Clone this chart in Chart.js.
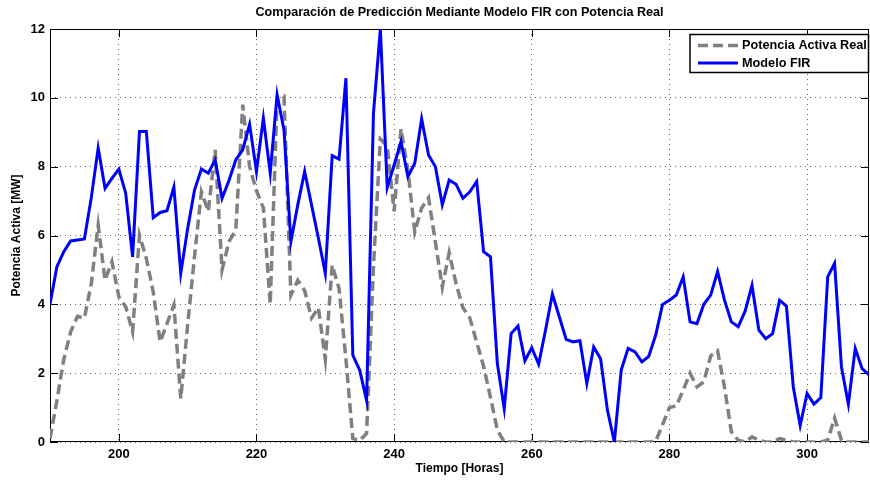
<!DOCTYPE html>
<html>
<head>
<meta charset="utf-8">
<script src="https://cdn.jsdelivr.net/npm/chart.js@4.4.0/dist/chart.umd.min.js"></script>
<style>
  html, body { margin: 0; padding: 0; background: #ffffff; }
  canvas { display: block; }
</style>
</head>
<body>
<canvas id="chart" width="870" height="482"></canvas>
<script>
// Hour index of each sample
const hours = [
  190, 191, 192, 193, 194, 195, 196, 197, 198, 199,
  200, 201, 202, 203, 204, 205, 206, 207, 208, 209,
  210, 211, 212, 213, 214, 215, 216, 217, 218, 219,
  220, 221, 222, 223, 224, 225, 226, 227, 228, 229,
  230, 231, 232, 233, 234, 235, 236, 237, 238, 239,
  240, 241, 242, 243, 244, 245, 246, 247, 248, 249,
  250, 251, 252, 253, 254, 255, 256, 257, 258, 259,
  260, 261, 262, 263, 264, 265, 266, 267, 268, 269,
  270, 271, 272, 273, 274, 275, 276, 277, 278, 279,
  280, 281, 282, 283, 284, 285, 286, 287, 288, 289,
  290, 291, 292, 293, 294, 295, 296, 297, 298, 299,
  300, 301, 302, 303, 304, 305, 306, 307, 308, 309
];

// Measured active power [MW]
const realPower = [
  0.10, 1.20, 2.40, 3.20, 3.65, 3.60, 4.60, 6.30, 4.70, 5.24,
  4.22, 3.93, 3.20, 6.01, 5.33, 4.36, 2.91, 3.44, 3.98, 1.26,
  3.40, 5.40, 7.27, 6.70, 8.49, 5.00, 5.82, 6.16, 9.80, 8.00,
  7.30, 6.80, 4.00, 10.00, 10.05, 4.27, 4.70, 4.40, 3.60, 3.90,
  2.40, 5.14, 4.46, 2.40, 0.10, 0.05, 0.25, 5.10, 8.80, 8.60,
  6.70, 9.10, 7.90, 6.10, 6.80, 7.10, 5.80, 4.50, 5.50, 4.60,
  3.90, 3.60, 2.90, 2.20, 1.30, 0.35, 0.00, 0.00, 0.00, 0.00,
  0.00, 0.00, 0.00, 0.00, 0.00, 0.00, 0.00, 0.00, 0.00, 0.00,
  0.00, 0.00, 0.00, 0.00, 0.00, 0.00, 0.00, 0.00, 0.02, 0.50,
  1.00, 1.05, 1.50, 2.00, 1.60, 1.75, 2.50, 2.65, 1.60, 0.30,
  0.05, 0.00, 0.15, 0.05, 0.00, 0.00, 0.10, 0.05, 0.00, 0.00,
  0.00, 0.00, 0.00, 0.05, 0.70, 0.05, 0.00, 0.00, 0.00, 0.00
];

// FIR model prediction [MW]
const firModel = [
  4.00, 5.09, 5.53, 5.84, 5.87, 5.90, 7.10, 8.54, 7.37, 7.66,
  7.93, 7.23, 5.38, 9.02, 9.02, 6.52, 6.67, 6.72, 7.41, 4.90,
  6.20, 7.32, 7.93, 7.81, 8.20, 7.08, 7.60, 8.20, 8.49, 9.23,
  7.86, 9.41, 7.81, 10.09, 9.07, 5.82, 6.89, 7.86, 6.89, 5.92,
  4.90, 8.32, 8.22, 10.57, 2.52, 2.09, 1.21, 9.55, 12.00, 7.39,
  8.05, 8.73, 7.71, 8.10, 9.39, 8.34, 8.00, 6.89, 7.61, 7.49,
  7.08, 7.27, 7.57, 5.53, 5.38, 2.28, 0.97, 3.15, 3.37, 2.36,
  2.74, 2.26, 3.25, 4.30, 3.64, 2.98, 2.91, 2.94, 1.70, 2.76,
  2.42, 0.92, 0.00, 2.09, 2.72, 2.62, 2.33, 2.49, 3.10, 4.00,
  4.12, 4.27, 4.80, 3.49, 3.44, 4.00, 4.27, 4.95, 4.12, 3.49,
  3.35, 3.80, 4.55, 3.25, 3.00, 3.15, 4.12, 3.95, 1.60, 0.48,
  1.41, 1.10, 1.29, 4.80, 5.19, 2.18, 1.10, 2.72, 2.13, 1.95
];

const xTickValues = [200, 220, 240, 260, 280, 300];
const yTickValues = [0, 2, 4, 6, 8, 10, 12];

const chartTitle = 'Comparación de Predicción Mediante Modelo FIR con Potencia Real';
const xAxisTitle = 'Tiempo [Horas]';
const yAxisTitle = 'Potencia Activa [MW]';
const realLabel = 'Potencia Activa Real';
const firLabel = 'Modelo FIR';

const FONT = '"Liberation Sans", Arial, Helvetica, sans-serif';
const REAL_COLOR = '#808080';
const FIR_COLOR = '#0000ff';
const REAL_DASH = [10, 5];

// Axes box, inward tick marks, title and legend
const axesFrame = {
  id: 'axesFrame',
  beforeDatasetsDraw(chart) {
    const { ctx, chartArea: a, scales } = chart;
    ctx.save();
    ctx.strokeStyle = '#000';
    ctx.lineWidth = 1;
    ctx.setLineDash([]);
    ctx.strokeRect(a.left + 0.5, a.top + 0.5, a.right - a.left - 1, a.bottom - a.top - 1);
    const tl = 8;
    ctx.beginPath();
    xTickValues.forEach(v => {
      const x = Math.round(scales.x.getPixelForValue(v)) + 0.5;
      ctx.moveTo(x, a.bottom); ctx.lineTo(x, a.bottom - tl);
      ctx.moveTo(x, a.top); ctx.lineTo(x, a.top + tl);
    });
    yTickValues.forEach(v => {
      const y = Math.round(scales.y.getPixelForValue(v)) + 0.5;
      ctx.moveTo(a.left, y); ctx.lineTo(a.left + tl, y);
      ctx.moveTo(a.right, y); ctx.lineTo(a.right - tl, y);
    });
    ctx.stroke();
    ctx.restore();
  },
  afterDraw(chart) {
    const { ctx, chartArea: a } = chart;
    ctx.save();
    // title centred over the axes
    ctx.fillStyle = '#000';
    ctx.font = 'bold 12.6px ' + FONT;
    ctx.textAlign = 'center';
    ctx.textBaseline = 'middle';
    ctx.fillText(chartTitle, (a.left + a.right) / 2, 13);

    // legend box
    const bx = 690, by = 34.5, bw = 178.5, bh = 38;
    ctx.fillStyle = '#fff';
    ctx.fillRect(bx, by, bw, bh);
    ctx.strokeStyle = '#000';
    ctx.lineWidth = 1.5;
    ctx.strokeRect(bx, by, bw, bh);

    const rows = [
      { y: 45.5, label: realLabel, color: REAL_COLOR, dash: REAL_DASH, w: 3.5 },
      { y: 63, label: firLabel, color: FIR_COLOR, dash: [], w: 3 }
    ];
    rows.forEach(r => {
      ctx.beginPath();
      ctx.setLineDash(r.dash);
      ctx.strokeStyle = r.color;
      ctx.lineWidth = r.w;
      ctx.moveTo(698, r.y);
      ctx.lineTo(738, r.y);
      ctx.stroke();
      ctx.setLineDash([]);
      ctx.fillStyle = '#000';
      ctx.font = 'bold 12.7px ' + FONT;
      ctx.textAlign = 'left';
      ctx.textBaseline = 'middle';
      ctx.fillText(r.label, 742, r.y);
    });
    ctx.restore();
  }
};

const toPoints = arr => hours.map((h, i) => ({ x: h, y: arr[i] }));

new Chart(document.getElementById('chart'), {
  type: 'line',
  data: {
    datasets: [
      {
        label: firLabel,
        data: toPoints(firModel),
        borderColor: FIR_COLOR,
        borderWidth: 3,
        pointRadius: 0,
        tension: 0,
        fill: false,
        order: 1
      },
      {
        label: realLabel,
        data: toPoints(realPower),
        borderColor: REAL_COLOR,
        borderWidth: 3.5,
        borderDash: REAL_DASH,
        pointRadius: 0,
        tension: 0,
        fill: false,
        order: 2
      }
    ]
  },
  options: {
    responsive: false,
    devicePixelRatio: 1,
    animation: false,
    layout: { padding: { top: 29, right: 1, left: 0, bottom: 0 } },
    plugins: {
      legend: { display: false },
      title: { display: false },
      tooltip: { enabled: false }
    },
    scales: {
      x: {
        type: 'linear',
        min: 190,
        max: 309,
        afterBuildTicks: s => { s.ticks = xTickValues.map(v => ({ value: v })); },
        afterFit: s => { s.height = 40; },
        ticks: {
          color: '#000',
          font: { family: FONT, size: 13, weight: 'bold' },
          padding: 5,
          maxRotation: 0,
          autoSkip: false
        },
        grid: { color: 'rgba(0,0,0,0.6)', lineWidth: 1, drawTicks: false },
        border: { display: false, dash: [1, 4] },
        title: {
          display: true,
          text: xAxisTitle,
          color: '#000',
          font: { family: FONT, size: 12, weight: 'bold' },
          padding: { top: 0, bottom: 6 }
        }
      },
      y: {
        min: 0,
        max: 12,
        afterBuildTicks: s => { s.ticks = yTickValues.map(v => ({ value: v })); },
        afterFit: s => { s.width = 50; },
        ticks: {
          color: '#000',
          font: { family: FONT, size: 13, weight: 'bold' },
          padding: 5
        },
        grid: { color: 'rgba(0,0,0,0.6)', lineWidth: 1, drawTicks: false },
        border: { display: false, dash: [1, 4] },
        title: {
          display: true,
          text: yAxisTitle,
          color: '#000',
          font: { family: FONT, size: 12, weight: 'bold' },
          padding: { top: 9, bottom: 0 }
        }
      }
    }
  },
  plugins: [axesFrame]
});
</script>
</body>
</html>
